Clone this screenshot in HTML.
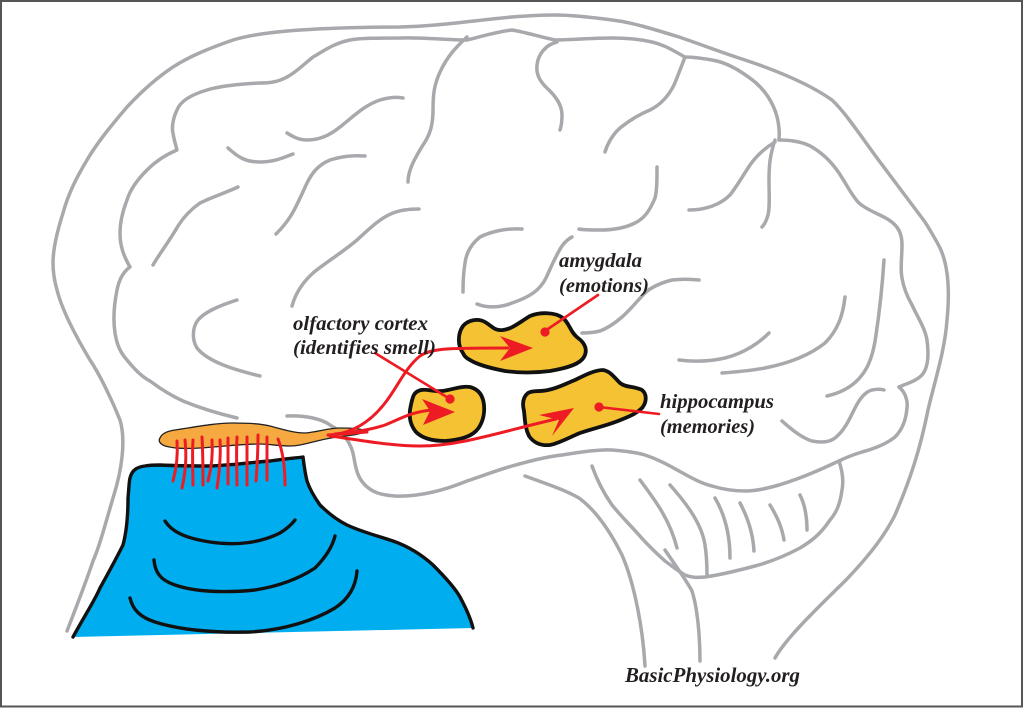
<!DOCTYPE html>
<html>
<head>
<meta charset="utf-8">
<style>
  html,body{margin:0;padding:0;background:#fff;}
  body{width:1024px;height:708px;overflow:hidden;}
  svg{display:block;}
  .g{fill:none;stroke:#a7a9ac;stroke-width:3.5;stroke-linecap:round;stroke-linejoin:round;}
  .k{fill:none;stroke:#111;stroke-width:3.4;stroke-linecap:round;stroke-linejoin:round;}
  .r{fill:none;stroke:#ed1c24;stroke-width:3;stroke-linecap:round;stroke-linejoin:round;}
  .blob{fill:#f4c232;stroke:#111;stroke-width:3.8;stroke-linejoin:round;}
  .t{font-family:"Liberation Serif",serif;font-weight:bold;font-style:italic;fill:#231f20;}
</style>
</head>
<body>
<svg width="1024" height="708" viewBox="0 0 1024 708" xmlns="http://www.w3.org/2000/svg">
  <rect x="0" y="0" width="1024" height="708" fill="#fff"/>
  <rect x="1" y="1" width="1021" height="705.5" fill="none" stroke="#555" stroke-width="2"/>

  <!-- outer head/brain outline -->
  <path class="g" d="M775,658 C785,640 810,615 845,581 C870,555 885,535 895,515 C910,480 920,450 928,410 C935,380 945,350 947,320 C950,290 948,265 940,248 C935,238 930,230 925,222 L880,162 C860,135 845,112 832,100 C815,88 790,75 745,60 C720,52 700,44 679,37 C650,28 630,22 612,20 C590,17 570,15 555,15 C540,15 525,16 512,17 C470,21 440,26 400,27 C360,27 330,28 300,30 C270,32 250,35 233,40 C210,48 190,56 173,67 C155,79 140,93 127,107 C110,127 97,143 87,160 C75,180 68,195 63,213 C56,235 53,250 53,263 C53,275 55,283 57,290 C62,310 75,335 90,360 C100,375 112,400 120,420 C126,440 122,470 113,498 C105,525 100,545 93,561 C85,585 75,610 67,631"/>

  <!-- inner brain outline -->
  <path class="g" d="M779,140 C781,115 770,95 755,82 C740,70 725,62 712,60 C700,58 692,57 685,57 C672,50 665,45 652,42 C635,38 620,38 612,38 C590,38 570,40 555,40 C540,37 525,32 512,30 C495,32 480,37 467,40 C445,40 420,37 400,38 C380,38 360,38 350,40 C335,43 325,50 313,57 C303,65 295,73 287,77 C278,82 270,83 260,83 C240,84 220,86 207,90 C190,95 180,102 177,110 C172,120 172,130 173,133 C174,140 176,146 177,150 C165,155 155,162 147,170 C137,180 130,190 127,200 C122,213 120,223 120,233 C120,245 123,255 130,267 C123,272 119,280 117,290 C114,305 113,320 115,333 C117,345 120,352 127,360 C135,370 142,377 150,381 C162,390 172,396 183,401 C200,408 220,414 237,418"/>
  <path class="g" d="M775,140 C770,155 769,165 769,180 C769,195 770,207 768,215 C766,222 764,225 762,227"/>
  <path class="g" d="M779,140 C795,140 805,143 812,147 C825,155 832,163 839,173 C847,185 852,196 859,203 C868,211 880,214 889,220 C898,226 902,233 902,245 C902,258 900,268 902,278 C904,290 908,298 912,305 C918,318 925,328 927,340 C929,355 928,368 922,375 C915,382 905,384 899,387"/>
  <path class="g" d="M899,387 C905,392 908,400 907,408 C906,420 902,430 895,437 C885,445 870,450 862,452 C852,455 845,458 839,461"/>

  <!-- temporal lower line -->
  <path class="g" d="M287,416 C305,415 322,419 330,425 C345,433 352,445 354,458 C356,470 358,478 365,485 C372,492 380,495 395,496 C420,497 445,490 467,481 C485,475 498,470 512,466 C530,461 545,457 562,455 C580,452 600,449 612,450 C625,451 635,452 645,455 C660,460 670,466 679,471 C690,477 700,483 712,486 C725,490 735,491 745,491 C757,491 768,488 779,485 C795,480 805,476 812,473 C822,469 830,465 839,461"/>

  <!-- cerebellum -->
  <path class="g" d="M839,461 C842,470 844,480 842,490 C840,505 836,513 830,520 C820,535 810,542 800,548 C785,556 770,562 755,566 C740,570 720,575 705,577 C695,578 690,577 685,575 C678,571 672,566 665,561 C655,552 645,542 639,535 C630,525 620,515 612,505 C605,495 598,483 592,466"/>
  <path class="g" d="M640,480 C655,500 670,520 677,548"/>
  <path class="g" d="M670,485 C688,505 702,525 705,545 C707,558 707,568 707,575"/>
  <path class="g" d="M715,498 C725,515 730,535 730,558"/>
  <path class="g" d="M740,503 C748,518 753,533 754,551"/>
  <path class="g" d="M770,505 C778,518 782,528 784,540"/>
  <path class="g" d="M800,495 C805,505 807,518 807,530"/>

  <!-- brainstem -->
  <path class="g" d="M525,476 C550,485 565,490 579,498 C598,512 612,535 622,555 C635,585 643,630 645,666"/>
  <path class="g" d="M665,550 C675,565 685,578 692,591 C698,610 700,640 700,661"/>

  <!-- sulci -->
  <path class="g" d="M237,300 C218,306 205,312 198,320 C192,328 192,340 197,348 C208,362 235,370 260,376"/>
  <path class="g" d="M467,37 C455,48 447,57 440,72 C434,85 433,95 433,110 C433,125 430,135 423,145 C415,158 408,170 408,182"/>
  <path class="g" d="M287,133 C295,138 300,140 307,140 C320,140 330,135 340,127 C355,115 365,105 380,100 C390,97 398,97 403,98"/>
  <path class="g" d="M228,148 C238,157 245,162 260,162 C275,162 285,157 293,154"/>
  <path class="g" d="M238,187 C225,193 212,197 200,203 C190,210 183,218 178,226 C170,240 160,253 153,265"/>
  <path class="g" d="M365,156 C350,155 340,157 330,160 C318,165 312,173 307,183 C300,198 295,210 290,217 C285,225 280,230 276,234"/>
  <path class="g" d="M419,209 C405,209 398,211 393,213 C380,218 368,230 357,240 C343,252 325,263 313,273 C302,283 295,295 292,306"/>
  <path class="g" d="M522,229 C505,228 490,232 480,237 C470,245 466,255 465,263 C463,275 463,285 463,292"/>
  <path class="g" d="M477,304 C487,308 500,308 512,303 C530,297 540,290 546,278 C552,265 556,255 562,246 C565,242 568,239 572,237"/>
  <path class="g" d="M557,42 C545,45 538,55 537,65 C536,75 540,82 549,90 C556,97 562,105 562,115 C562,122 561,127 560,130"/>
  <path class="g" d="M685,57 C680,70 677,78 674,85 C668,97 660,105 650,110 C640,114 630,120 620,128 C612,135 607,145 605,152"/>
  <path class="g" d="M657,167 C657,180 657,190 655,198 C650,210 645,218 635,223 C625,228 612,230 600,230 C590,230 583,230 579,229"/>
  <path class="g" d="M775,142 C765,148 757,155 750,165 C742,177 737,186 730,195 C720,205 705,210 689,210"/>
  <path class="g" d="M699,280 C690,279 680,279 672,280 C660,283 650,288 645,293 C638,300 630,310 622,317 C614,324 608,328 600,331 C592,333 587,333 582,333"/>
  <path class="g" d="M845,297 C843,315 838,330 825,343 C810,355 790,363 765,368 C748,371 735,372 722,373"/>
  <path class="g" d="M679,360 C695,362 712,361 725,358 C745,353 760,342 769,333"/>
  <path class="g" d="M884,260 C882,290 879,315 876,335 C874,350 870,365 862,375 C853,387 840,393 827,396"/>
  <path class="g" d="M782,421 C792,430 802,438 812,441 C822,443 830,442 835,438 C845,430 850,418 855,408 C860,398 865,392 872,390 C877,389 881,389 884,390"/>

  <!-- nasal cavity -->
  <path d="M73,637 C85,615 95,600 100,588 C110,570 118,555 123,545 C127,530 128,512 128,498 C129,488 129,482 130,478 C132,470 137,467 145,466 C150,465 155,465 160,465 C180,466 195,466 210,466 C235,465 255,462 270,461 C285,459 295,458 303,457 C304,465 305,473 307,481 C310,490 315,498 320,505 C328,513 337,520 347,525 C362,532 378,536 393,541 C410,547 422,555 433,565 C445,577 455,588 460,597 C467,610 471,620 473,628 L73,637 Z" fill="#00aeef"/>
  <path class="k" d="M73,637 C85,615 95,600 100,588 C110,570 118,555 123,545 C127,530 128,512 128,498 C129,488 129,482 130,478 C132,470 137,467 145,466 C150,465 155,465 160,465 C180,466 195,466 210,466 C235,465 255,462 270,461 C285,459 295,458 303,457 C304,465 305,473 307,481 C310,490 315,498 320,505 C328,513 337,520 347,525 C362,532 378,536 393,541 C410,547 422,555 433,565 C445,577 455,588 460,597 C467,610 471,620 473,628"/>
  <path class="k" d="M165,521 C172,532 185,538 210,542 C235,546 260,543 280,533 C288,528 292,524 295,520"/>
  <path class="k" d="M154,560 C155,572 160,580 175,585 C195,592 225,593 255,590 C280,586 300,578 315,568 C325,558 332,548 335,536"/>
  <path class="k" d="M130,598 C133,610 140,617 155,622 C180,630 215,633 250,632 C285,630 315,620 335,608 C350,598 356,585 357,571"/>

  <!-- olfactory bulb -->
  <path d="M160,438 C162,433 168,431 175,430 C195,427 215,423 233,423 C250,423 262,424 270,426 C285,430 295,433 305,433 C318,432 328,428 340,428 C350,428 358,428 367,431 C360,434 355,435 345,436 C335,437 325,439 317,441 C305,444 298,446 290,446 C278,446 270,444 260,444 C240,444 220,447 200,448 C185,449 172,448 165,446 C160,444 158,441 160,438 Z" fill="#f7a941" stroke="#222" stroke-width="1.3"/>

  <!-- receptor fibers -->
  <g class="r">
    <path d="M177,441 C178,455 176,470 173,481"/>
    <path d="M185,440 C187,458 185,475 182,488"/>
    <path d="M193,440 C192,455 193,472 193,485"/>
    <path d="M202,437 C203,455 203,472 203,485"/>
    <path d="M212,440 C213,455 211,470 208,481"/>
    <path d="M220,440 C221,458 219,475 217,488"/>
    <path d="M228,438 C228,455 228,472 228,484"/>
    <path d="M237,437 C236,455 237,472 237,485"/>
    <path d="M247,437 C247,455 247,472 247,485"/>
    <path d="M258,435 C258,452 257,468 256,481"/>
    <path d="M267,437 C267,452 267,468 267,480"/>
    <path d="M278,439 C283,452 285,470 285,485"/>
  </g>

  <!-- target regions -->
  <path class="blob" d="M463,353 C457,345 458,333 463,326 C468,320 478,318 485,322 C492,326 494,331 503,330 C512,329 520,322 530,316 C540,312 555,312 563,318 C570,324 570,332 578,338 C585,343 588,350 584,357 C580,364 568,368 550,371 C535,373 520,373 505,371 C490,368 478,365 470,360 C466,358 464,356 463,353 Z"/>
  <path class="blob" d="M413,397 C415,391 420,389 428,390 C435,391 440,392 448,390 C457,388 463,386 470,387 C478,389 483,395 484,405 C485,415 482,425 476,431 C470,437 460,440 445,441 C432,441 422,438 416,432 C411,426 409,418 410,410 C411,404 412,400 413,397 Z"/>
  <path class="blob" d="M524,411 C522,403 523,397 528,393 C533,390 540,392 548,390 C558,388 565,384 575,380 C585,375 595,370 603,370 C610,371 614,377 620,383 C626,388 635,386 642,390 C647,394 647,402 642,408 C636,414 628,417 618,421 C605,426 595,428 580,433 C570,437 560,443 550,445 C540,446 533,442 529,436 C525,428 525,420 524,411 Z"/>

  <!-- red arrows -->
  <g class="r">
    <path d="M328,435 L367,432"/>
    <path d="M333,435 C355,432 372,420 385,403 C397,388 405,368 420,356 C432,348 450,348 508,348"/>
    <path d="M335,434 C355,432 370,430 385,425 C398,420 410,412 432,410"/>
    <path d="M330,436 C360,440 390,446 420,446 C460,446 500,432 556,419"/>
  </g>
  <polygon points="533,348 500,336 510,348 500,361" fill="#ed1c24"/>
  <polygon points="455,412 422,399 430,411 423,425" fill="#ed1c24"/>
  <polygon points="574,408 539,415 559,420 552,436" fill="#ed1c24"/>

  <!-- pointer lines -->
  <g stroke="#ed1c24" stroke-width="2.6" stroke-linecap="round" fill="none">
    <path d="M375,353 L450,399"/>
    <path d="M598,295 L545,331"/>
    <path d="M599,407 L659,414"/>
  </g>
  <circle cx="450" cy="399" r="4.6" fill="#ed1c24"/>
  <circle cx="545" cy="332" r="4.6" fill="#ed1c24"/>
  <circle cx="599" cy="407" r="4.6" fill="#ed1c24"/>

  <!-- labels -->
  <text class="t" x="293" y="330" font-size="20" textLength="135" lengthAdjust="spacingAndGlyphs">olfactory cortex</text>
  <text class="t" x="293" y="354" font-size="20" textLength="143" lengthAdjust="spacingAndGlyphs">(identifies smell)</text>
  <text class="t" x="559" y="267" font-size="20" textLength="83" lengthAdjust="spacingAndGlyphs">amygdala</text>
  <text class="t" x="559" y="292" font-size="20" textLength="90" lengthAdjust="spacingAndGlyphs">(emotions)</text>
  <text class="t" x="660" y="408" font-size="20" textLength="114" lengthAdjust="spacingAndGlyphs">hippocampus</text>
  <text class="t" x="660" y="433" font-size="20" textLength="95" lengthAdjust="spacingAndGlyphs">(memories)</text>
  <text class="t" x="625" y="682" font-size="21" textLength="175" lengthAdjust="spacingAndGlyphs">BasicPhysiology.org</text>
</svg>
</body>
</html>
